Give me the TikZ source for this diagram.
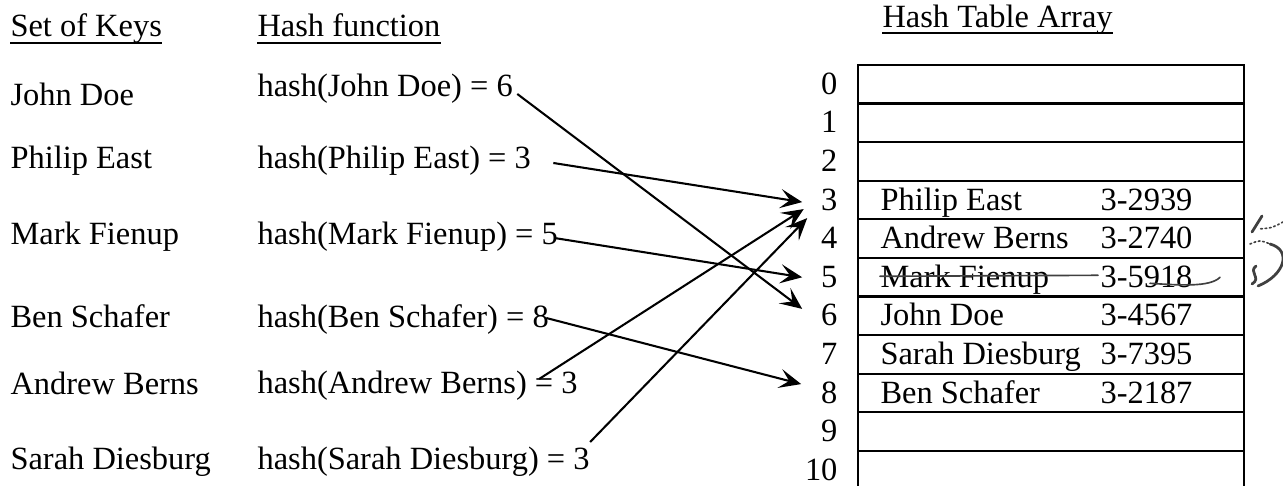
\documentclass[tikz,border=0pt]{standalone}
\usepackage{fontspec}
\setmainfont{Liberation Serif}
\usetikzlibrary{arrows.meta}
\usetikzlibrary{calc}

\tikzset{
	label text/.style={anchor=base west, inner sep=0pt, font=\fontsize{11.8}{14}\selectfont},
	index text/.style={anchor=base east, inner sep=0pt, font=\fontsize{11.8}{14}\selectfont},
	hash arrow/.style={line width=0.75pt, -{Stealth[length=8pt, width=7pt, inset=3.5pt]}},
	pen mark/.style={line width=0.6pt, draw=black!75, line cap=round},
}

\begin{document}
\begin{tikzpicture}[x=0.01278cm, y=-0.01278cm]
	\useasboundingbox (0,0) rectangle (1283,486);

	%Headings
	\node[label text] (keys-head) at (10,37) {Set of Keys};
	\node[label text] (func-head) at (257,37) {Hash function};
	\node[label text] (table-head) at (882,28) {Hash Table Array};
	\draw[line width=0.6pt] ($(keys-head.base west)+(0,6)$) -- ($(keys-head.base east)+(0,6)$);
	\draw[line width=0.6pt] ($(func-head.base west)+(0,6)$) -- ($(func-head.base east)+(0,6)$);
	\draw[line width=0.6pt] ($(table-head.base west)+(0,5)$) -- ($(table-head.base east)+(0,5)$);

	%Keys
	\node[label text] (key-john) at (10,106) {John Doe};
	\node[label text] (key-philip) at (10,169) {Philip East};
	\node[label text] (key-mark) at (10,245) {Mark Fienup};
	\node[label text] (key-ben) at (10,328) {Ben Schafer};
	\node[label text] (key-andrew) at (10,395) {Andrew Berns};
	\node[label text] (key-sarah) at (10,470) {Sarah Diesburg};

	%Hash function
	\node[label text] (hash-john) at (257,97) {hash(John Doe) = 6};
	\node[label text] (hash-philip) at (257,169) {hash(Philip East) = 3};
	\node[label text] (hash-mark) at (257,245) {hash(Mark Fienup) = 5};
	\node[label text] (hash-ben) at (257,328) {hash(Ben Schafer) = 8};
	\node[label text] (hash-andrew) at (257,394) {hash(Andrew Berns) = 3};
	\node[label text] (hash-sarah) at (257,470) {hash(Sarah Diesburg) = 3};

	%Table
	\draw[line width=0.8pt] (858,65) rectangle (1244,495);
	\foreach \i in {1,...,10}
		\draw[line width=0.8pt] (858,65+38.6*\i) -- (1244,65+38.6*\i);
	\foreach \i in {0,...,10}
		\node[index text] (idx-\i) at (838,94.3+38.6*\i) {\i};

	%Entries
	\node[label text] (name-3) at (880,210.1) {Philip East};
	\node[label text] (num-3) at (1100,210.1) {3-2939};
	\node[label text] (name-4) at (880,248.7) {Andrew Berns};
	\node[label text] (num-4) at (1100,248.7) {3-2740};
	\node[label text] (name-5) at (880,287.3) {Mark Fienup};
	\node[label text] (num-5) at (1100,287.3) {3-5918};
	\node[label text] (name-6) at (880,325.9) {John Doe};
	\node[label text] (num-6) at (1100,325.9) {3-4567};
	\node[label text] (name-7) at (880,364.5) {Sarah Diesburg};
	\node[label text] (num-7) at (1100,364.5) {3-7395};
	\node[label text] (name-8) at (880,403.1) {Ben Schafer};
	\node[label text] (num-8) at (1100,403.1) {3-2187};

	%Arrows
	\draw[hash arrow] ($(hash-john.base east)+(4,-3)$) -- ($(idx-6.base west)+(-18.5,-17)$);
	\draw[hash arrow] ($(hash-philip.base east)+(22,-6)$) -- ($(idx-3.base west)+(-18.5,-8)$);
	\draw[hash arrow] ($(hash-mark.base east)+(-4,-7)$) -- ($(idx-5.base west)+(-18.5,-10)$);
	\draw[hash arrow] ($(hash-ben.base east)+(-3,-10)$) -- ($(idx-8.base west)+(-19.5,-19)$);
	\draw[hash arrow] ($(hash-andrew.base east)+(-39,-15)$) -- ($(idx-3.base west)+(-17,-1)$);
	\draw[hash arrow] ($(hash-sarah.base east)+(0,-28)$) -- ($(idx-3.base west)+(-13.5,8)$);

	%Pen marks
	\draw[pen mark] ($(name-5.base west)+(0,-11)$) -- ($(num-5.base west)+(-2,-12)$);
	\draw[pen mark] ($(num-5.base west)+(50,-4)$) .. controls ($(num-5.base west)+(80,-2)$) and ($(num-5.base west)+(110,0)$) .. ($(num-5.base west)+(120,-10)$);
	\draw[pen mark, line width=1pt] (1262,216) -- (1252,232);
	\draw[pen mark, densely dotted] (1283,222) .. controls (1272,228) .. (1258,229);
	\draw[pen mark, densely dotted] (1250,244) .. controls (1260,240) .. (1270,244);
	\draw[pen mark, line width=1pt] (1270,244) .. controls (1292,250) and (1285,275) .. (1258,286);
	\draw[pen mark, line width=1pt] (1256,266) .. controls (1248,272) and (1262,278) .. (1252,284);
\end{tikzpicture}
\end{document}
